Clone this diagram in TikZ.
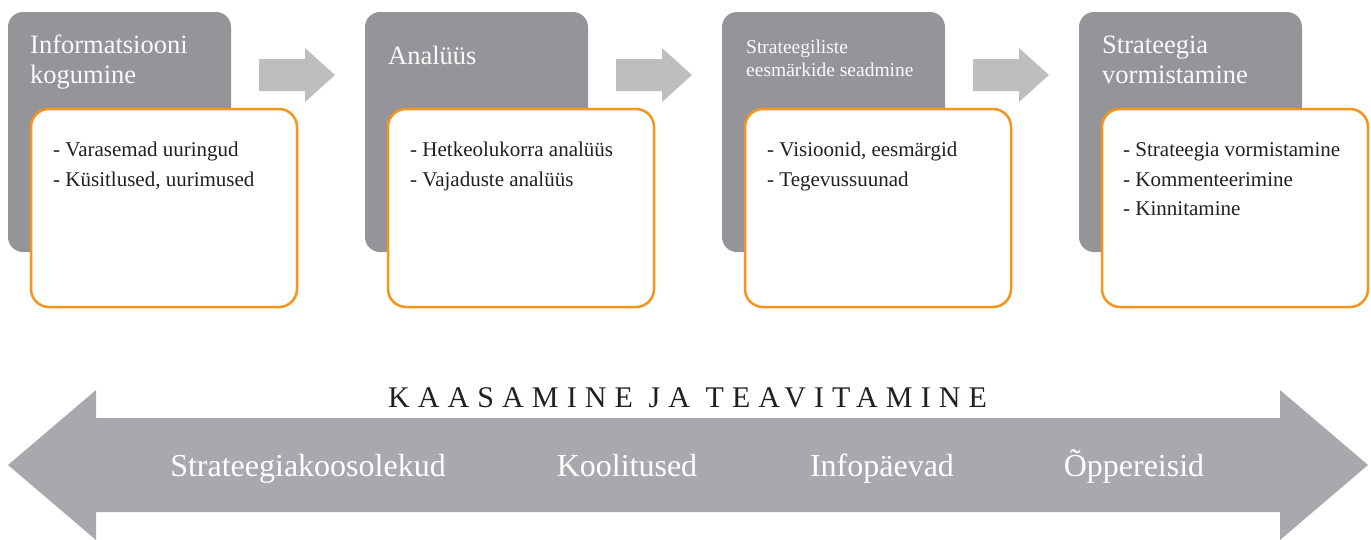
\documentclass[tikz,border=0pt]{standalone}
\usepackage{fontspec}
\setmainfont{Liberation Serif}
\newfontfamily\spacedfont[LetterSpace=27]{Liberation Serif}
\definecolor{boxgray}{HTML}{939598}
\definecolor{chevgray}{HTML}{BCBEC0}
\definecolor{bandgray}{HTML}{A7A9AC}
\definecolor{orangec}{HTML}{F7941D}
\definecolor{textdark}{HTML}{231F20}
\tikzset{
  graybox/.style={fill=boxgray, rounded corners=15pt, anchor=north west, inner sep=0pt, outer sep=0pt, minimum width=223pt, minimum height=240pt},
  orangebox/.style={draw=orangec, line width=2.5pt, fill=white, rounded corners=18pt, anchor=north west, inner sep=0pt, outer sep=0pt, minimum width=266pt, minimum height=198pt},
  headtext/.style={anchor=base west, inner sep=0pt, text=white!95!boxgray, align=left, font=\fontsize{26.5}{30}\selectfont},
  smallhead/.style={headtext, font=\fontsize{19.5}{23}\selectfont},
  itemtext/.style={anchor=base west, inner sep=0pt, text=textdark, align=left, font=\fontsize{21}{29.5}\selectfont},
  chev/.style={fill=chevgray},
  bandtext/.style={anchor=base, inner sep=0pt, text=white, font=\fontsize{32}{36}\selectfont},
  titletext/.style={anchor=base west, inner sep=0pt, text=textdark, font=\fontsize{30}{34}\spacedfont}
}
\begin{document}
\begin{tikzpicture}[x=1pt, y=-1pt]
\useasboundingbox (0,0) rectangle (1371,539);

% gray stage boxes
\node (g1) [graybox] at (8,12) {};
\node (g2) [graybox] at (365,12) {};
\node (g3) [graybox] at (722,12) {};
\node (g4) [graybox] at (1079,12) {};

% orange content boxes
\node (o1) [orangebox] at (31,109) {};
\node (o2) [orangebox] at (388,109) {};
\node (o3) [orangebox] at (745,109) {};
\node (o4) [orangebox] at (1102,109) {};

% headings (base anchor = baseline of last line)
\node (h1) [headtext] at ([shift={(22,71)}]g1.north west) {Informatsiooni\\kogumine};
\node (h2) [headtext] at ([shift={(23,52)}]g2.north west) {Analüüs};
\node (h3) [smallhead] at ([shift={(24,64)}]g3.north west) {Strateegiliste\\eesmärkide seadmine};
\node (h4) [headtext] at ([shift={(23,71)}]g4.north west) {Strateegia\\vormistamine};

% items
\node (i1) [itemtext] at ([shift={(22,77)}]o1.north west) {- Varasemad uuringud\\- Küsitlused, uurimused};
\node (i2) [itemtext] at ([shift={(22,77)}]o2.north west) {- Hetkeolukorra analüüs\\- Vajaduste analüüs};
\node (i3) [itemtext] at ([shift={(22,77)}]o3.north west) {- Visioonid, eesmärgid\\- Tegevussuunad};
\node (i4) [itemtext] at ([shift={(21,106.5)}]o4.north west) {- Strateegia vormistamine\\- Kommenteerimine\\- Kinnitamine};

% chevron arrows between stages
\foreach \k in {0,1,2} {
  \begin{scope}[xshift=357*\k]
    \fill[chev] (259,59) -- (305,59) -- (305,48) -- (335,75) -- (305,102) -- (305,91) -- (259,91) -- cycle;
  \end{scope}
}

% bottom double arrow
\fill[bandgray] (8,465) -- (96,390) -- (96,418) -- (1280,418) -- (1280,390) -- (1368,465)
  -- (1280,540) -- (1280,512) -- (96,512) -- (96,540) -- cycle;

\node (title) [titletext] at (388,407) {KAASAMINE JA TEAVITAMINE};

\node (b1) [bandtext] at (308,476) {Strateegiakoosolekud};
\node (b2) [bandtext] at (627,476) {Koolitused};
\node (b3) [bandtext] at (882,476) {Infopäevad};
\node (b4) [bandtext] at (1134,476) {Õppereisid};
\end{tikzpicture}
\end{document}
